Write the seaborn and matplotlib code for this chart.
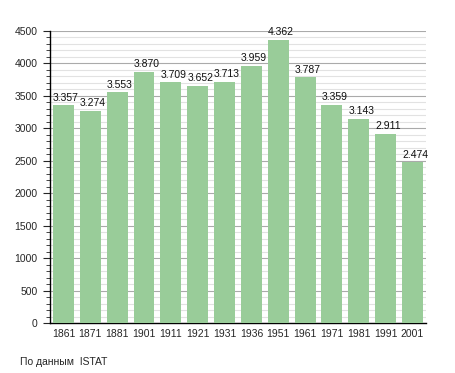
import matplotlib
matplotlib.use("Agg")
import matplotlib.pyplot as plt
import seaborn as sns
import pandas as pd
from matplotlib.ticker import MultipleLocator

years = ["1861", "1871", "1881", "1901", "1911", "1921", "1931", "1936", "1951", "1961", "1971", "1981", "1991", "2001"]
population = [3357, 3274, 3553, 3870, 3709, 3652, 3713, 3959, 4362, 3787, 3359, 3143, 2911, 2474]
labels = ["3.357", "3.274", "3.553", "3.870", "3.709", "3.652", "3.713", "3.959", "4.362", "3.787", "3.359", "3.143", "2.911", "2.474"]

sns.set_style("white")
plt.rcParams['font.family'] = ['Liberation Sans', 'DejaVu Sans']

df = pd.DataFrame({"year": years, "pop": population})

fig = plt.figure(figsize=(4.55, 3.73), dpi=100)
ax = fig.add_axes([0.110, 0.134, 0.826, 0.783])

bw = 0.78
sns.barplot(data=df, x="year", y="pop", color="#99CC99", saturation=1, width=bw,
            linewidth=0, ax=ax, zorder=3)

for i, (v, t) in enumerate(zip(population, labels)):
    ax.text(i - bw / 2, v + 40, t, ha="left", va="bottom", fontsize=7.5, color="#111111", zorder=4)

ax.set_ylim(0, 4500)
ax.set_xlim(-0.5, len(years) - 0.5)
ax.yaxis.set_major_locator(MultipleLocator(500))
ax.yaxis.set_minor_locator(MultipleLocator(100))
ax.grid(axis="y", which="major", color="#aaaaaa", linewidth=0.8, zorder=0)
ax.grid(axis="y", which="minor", color="#e2e2e2", linewidth=0.8, zorder=0)
ax.set_axisbelow(True)

for s in ["top", "right"]:
    ax.spines[s].set_visible(False)
ax.spines["left"].set_color("black")
ax.spines["bottom"].set_color("black")
ax.spines["left"].set_linewidth(1)
ax.spines["bottom"].set_linewidth(1)

ax.tick_params(axis="y", which="major", left=True, length=5, width=0.8, labelsize=7.5, pad=4)
ax.tick_params(axis="y", which="minor", left=True, length=3, width=0.6)
ax.tick_params(axis="x", bottom=False, labelsize=7.5, pad=1)
ax.set_xlabel("")
ax.set_ylabel("")

fig.text(20 / 455, 1 - 362 / 373, "По данным  ISTAT", fontsize=7.5, ha="left", va="center")

fig.savefig("out.png", dpi=100)
